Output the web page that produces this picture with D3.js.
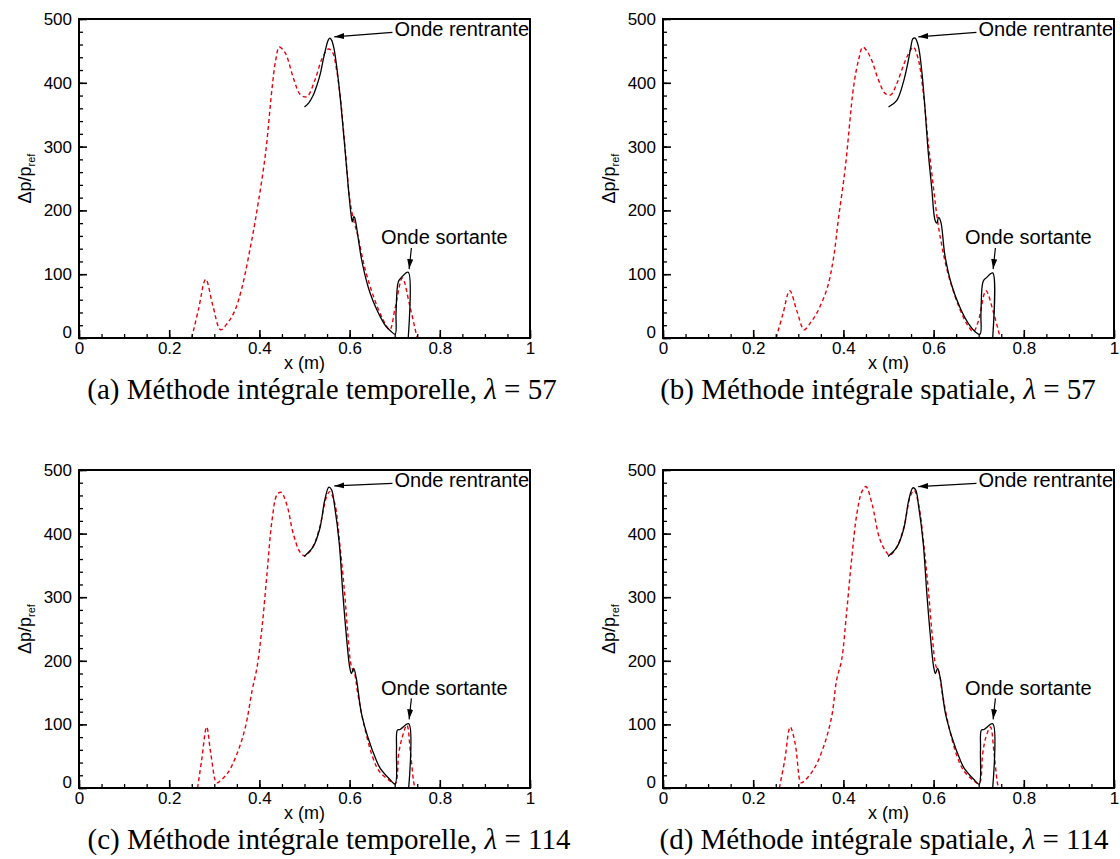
<!DOCTYPE html>
<html>
<head>
<meta charset="utf-8">
<script src="https://cdn.jsdelivr.net/npm/d3@7"></script>
<style>
  body { margin: 0; background: #fff; }
  svg { display: block; }
</style>
</head>
<body>
<div id="plot"></div>
<script>
// x (m) / dp/pref, one pair per point
const redA = [[0.25,0],[0.265,45],[0.281,92],[0.297,50],[0.314,13],[0.33,24],[0.345,42],[0.361,78],[0.381,146],[0.393,193],[0.413,286],[0.428,391],[0.436,435],[0.444,456],[0.452,452],[0.46,443],[0.476,406],[0.49,382],[0.5,378],[0.507,379],[0.523,404],[0.539,438],[0.553,453],[0.562,448],[0.57,425],[0.579,380],[0.59,297],[0.601,214],[0.61,182],[0.618,161],[0.634,109],[0.654,63],[0.674,29],[0.689,13],[0.701,47],[0.717,94],[0.733,52],[0.749,2]];
const blackA = [[0.5,362],[0.51,369],[0.519,380],[0.527,395],[0.535,414],[0.542,438],[0.547,453],[0.552,466],[0.556,470],[0.56,467],[0.565,455],[0.572,422],[0.578,385],[0.583,349],[0.591,286],[0.598,229],[0.603,195],[0.606,182],[0.609,190],[0.611,189],[0.614,180],[0.62,152],[0.626,125],[0.634,99],[0.642,78],[0.652,58],[0.662,42],[0.672,28],[0.681,18],[0.691,11],[0.701,6],[0.703,40],[0.708,88],[0.715,95],[0.73,103],[0.73,0]];

const redB = [[0.251,0],[0.266,38],[0.281,74],[0.297,42],[0.313,13],[0.327,24],[0.341,39],[0.364,78],[0.378,125],[0.389,187],[0.404,266],[0.423,396],[0.434,437],[0.443,456],[0.452,450],[0.463,435],[0.478,404],[0.493,383],[0.505,381],[0.518,398],[0.533,427],[0.544,445],[0.555,456],[0.566,437],[0.577,385],[0.588,307],[0.6,234],[0.607,193],[0.614,161],[0.629,109],[0.644,73],[0.659,44],[0.673,23],[0.688,10],[0.699,26],[0.716,74],[0.732,42],[0.747,2]];
const blackB = [[0.5,362],[0.518,372],[0.533,401],[0.544,435],[0.55,458],[0.554,469],[0.559,470],[0.566,458],[0.574,417],[0.581,359],[0.588,292],[0.596,234],[0.603,185],[0.607,180],[0.611,189],[0.616,182],[0.625,130],[0.64,83],[0.659,47],[0.677,23],[0.692,10],[0.703,6],[0.705,39],[0.71,89],[0.718,95],[0.731,102],[0.731,0]];

const redC = [[0.263,0],[0.272,44],[0.283,96],[0.292,55],[0.303,10],[0.306,8],[0.329,23],[0.351,55],[0.369,96],[0.384,154],[0.395,191],[0.406,254],[0.417,338],[0.428,421],[0.439,461],[0.448,465],[0.461,445],[0.475,400],[0.49,371],[0.501,365],[0.519,380],[0.534,411],[0.549,458],[0.556,466],[0.567,448],[0.578,385],[0.589,306],[0.596,243],[0.604,191],[0.611,180],[0.618,149],[0.633,96],[0.651,49],[0.666,26],[0.688,12],[0.701,7],[0.709,55],[0.716,78],[0.727,99],[0.735,55],[0.742,10],[0.745,0]];
const blackC = [[0.499,364],[0.519,379],[0.534,408],[0.545,453],[0.554,473],[0.56,469],[0.567,442],[0.577,385],[0.585,306],[0.593,238],[0.6,191],[0.604,180],[0.609,188],[0.615,172],[0.626,118],[0.64,81],[0.659,44],[0.668,31],[0.69,13],[0.701,6],[0.704,60],[0.706,91],[0.712,92],[0.731,101],[0.731,0]];

const redD = [[0.258,0],[0.27,44],[0.282,96],[0.293,70],[0.304,10],[0.307,8],[0.333,28],[0.356,65],[0.374,112],[0.385,170],[0.396,201],[0.407,275],[0.418,358],[0.43,432],[0.441,466],[0.45,474],[0.463,448],[0.48,393],[0.494,372],[0.503,366],[0.519,380],[0.534,410],[0.549,460],[0.557,468],[0.567,445],[0.578,385],[0.589,306],[0.597,240],[0.605,192],[0.612,182],[0.619,150],[0.634,96],[0.652,50],[0.667,27],[0.688,12],[0.701,7],[0.709,55],[0.716,80],[0.726,96],[0.734,55],[0.741,10],[0.744,0]];
const blackD = [[0.499,364],[0.519,379],[0.534,408],[0.545,453],[0.554,472],[0.56,469],[0.567,442],[0.577,385],[0.585,306],[0.593,238],[0.6,191],[0.604,180],[0.609,188],[0.615,172],[0.626,118],[0.64,81],[0.659,44],[0.668,31],[0.69,13],[0.701,6],[0.704,60],[0.706,91],[0.712,92],[0.731,101],[0.731,0]];

const xTicks = [0, 0.2, 0.4, 0.6, 0.8, 1];
const xTickLabels = ["0", "0.2", "0.4", "0.6", "0.8", "1"];
const yTicks = [0, 100, 200, 300, 400, 500];
const captionMethods = ["Méthode intégrale temporelle", "Méthode intégrale spatiale", "Méthode intégrale temporelle", "Méthode intégrale spatiale"];
const captionLetters = ["a", "b", "c", "d"];
const lambdas = ["57", "57", "114", "114"];

const W = 1120, H = 859;
const pw = 451;
const panels = [
  { left: 79, top: 19, bottom: 338, red: redA, black: blackA, capX: 322, capY: 399, tipY: 472 },
  { left: 663, top: 19, bottom: 338, red: redB, black: blackB, capX: 878, capY: 399, tipY: 472 },
  { left: 79, top: 470, bottom: 788, red: redC, black: blackC, capX: 329, capY: 849, tipY: 475 },
  { left: 663, top: 470, bottom: 788, red: redD, black: blackD, capX: 884, capY: 849, tipY: 474 }
];

const sans = "'Liberation Sans', Arial, Helvetica, sans-serif";
const serif = "'Liberation Serif', 'Times New Roman', serif";

const svg = d3.select("#plot").append("svg")
  .attr("width", W)
  .attr("height", H)
  .style("background", "#fff");

svg.append("defs").append("marker")
  .attr("id", "head")
  .attr("markerUnits", "userSpaceOnUse")
  .attr("markerWidth", 11)
  .attr("markerHeight", 8)
  .attr("refX", 10)
  .attr("refY", 4)
  .attr("orient", "auto")
  .append("path")
  .attr("d", "M0,1 L10,4 L0,7 Z")
  .attr("fill", "#000");

panels.forEach((p, i) => {
  const x = d3.scaleLinear().domain([0, 1]).range([p.left, p.left + pw]);
  const y = d3.scaleLinear().domain([0, 500]).range([p.bottom, p.top]);
  const g = svg.append("g");

  const line = d3.line()
    .x(d => x(d[0]))
    .y(d => y(d[1]))
    .curve(d3.curveCatmullRom.alpha(0.5));

  g.append("path")
    .datum(p.red)
    .attr("fill", "none")
    .attr("stroke", "#e8000b")
    .attr("stroke-width", 1.4)
    .attr("stroke-dasharray", "4,3")
    .attr("d", line);

  g.append("path")
    .datum(p.black)
    .attr("fill", "none")
    .attr("stroke", "#000")
    .attr("stroke-width", 1.3)
    .attr("d", line);

  // minor ticks, inward
  g.append("g")
    .attr("transform", `translate(0,${p.bottom})`)
    .call(d3.axisBottom(x).tickValues(d3.range(0, 1.0001, 0.05)).tickSize(-4).tickFormat(""))
    .call(a => a.select(".domain").remove())
    .call(a => a.selectAll("line").attr("stroke-width", 1.3));
  g.append("g")
    .attr("transform", `translate(${p.left},0)`)
    .call(d3.axisLeft(y).tickValues(d3.range(0, 501, 20)).tickSize(-4).tickFormat(""))
    .call(a => a.select(".domain").remove())
    .call(a => a.selectAll("line").attr("stroke-width", 1.3));

  // major ticks
  g.append("g")
    .attr("transform", `translate(0,${p.bottom})`)
    .call(d3.axisBottom(x).tickValues(xTicks).tickSize(-8).tickPadding(4)
      .tickFormat((d, k) => xTickLabels[k]))
    .call(a => a.select(".domain").remove())
    .call(a => a.selectAll("line").attr("stroke-width", 1.6))
    .call(a => a.selectAll("text").attr("font-family", sans).attr("font-size", 17).attr("fill", "#000"));
  g.append("g")
    .attr("transform", `translate(${p.left},0)`)
    .call(d3.axisLeft(y).tickValues(yTicks).tickSize(-8).tickPadding(7))
    .call(a => a.select(".domain").remove())
    .call(a => a.selectAll("line").attr("stroke-width", 1.6))
    .call(a => a.selectAll("text").attr("font-family", sans).attr("font-size", 17).attr("fill", "#000"))
    .call(a => a.selectAll(".tick").filter(d => d === 0).select("text").attr("dy", "-0.05em"));

  g.append("rect")
    .attr("x", p.left).attr("y", p.top)
    .attr("width", pw).attr("height", p.bottom - p.top)
    .attr("fill", "none").attr("stroke", "#000").attr("stroke-width", 2);

  g.append("text")
    .attr("x", p.left + pw / 2)
    .attr("y", p.bottom + 31)
    .attr("text-anchor", "middle")
    .attr("font-family", sans).attr("font-size", 18)
    .text("x (m)");

  const yl = g.append("text")
    .attr("transform", `translate(${p.left - 48},${(p.top + p.bottom) / 2}) rotate(-90)`)
    .attr("text-anchor", "middle")
    .attr("font-family", sans).attr("font-size", 18);
  yl.append("tspan").text("\u0394p/p");
  yl.append("tspan").attr("font-size", 11).attr("dy", 4).text("ref");

  // annotations
  g.append("line")
    .attr("x1", x(0.695)).attr("y1", y(479))
    .attr("x2", x(0.566)).attr("y2", y(p.tipY))
    .attr("stroke", "#000").attr("stroke-width", 1.2)
    .attr("marker-end", "url(#head)");
  g.append("text")
    .attr("x", x(1) - 1).attr("y", y(474))
    .attr("text-anchor", "end")
    .attr("font-family", sans).attr("font-size", 20)
    .text("Onde rentrante");

  g.append("line")
    .attr("x1", x(0.737)).attr("y1", y(141))
    .attr("x2", x(0.732)).attr("y2", y(108))
    .attr("stroke", "#000").attr("stroke-width", 1.2)
    .attr("marker-end", "url(#head)");
  g.append("text")
    .attr("x", x(0.81)).attr("y", y(147))
    .attr("text-anchor", "middle")
    .attr("font-family", sans).attr("font-size", 20)
    .text("Onde sortante");

  const cap = g.append("text")
    .attr("x", p.capX).attr("y", p.capY)
    .attr("text-anchor", "middle")
    .attr("font-family", serif).attr("font-size", 29);
  cap.append("tspan").text(`(${captionLetters[i]}) ${captionMethods[i]}, `);
  cap.append("tspan").attr("font-style", "italic").text("\u03bb");
  cap.append("tspan").text(` = ${lambdas[i]}`);
});
</script>
</body>
</html>
